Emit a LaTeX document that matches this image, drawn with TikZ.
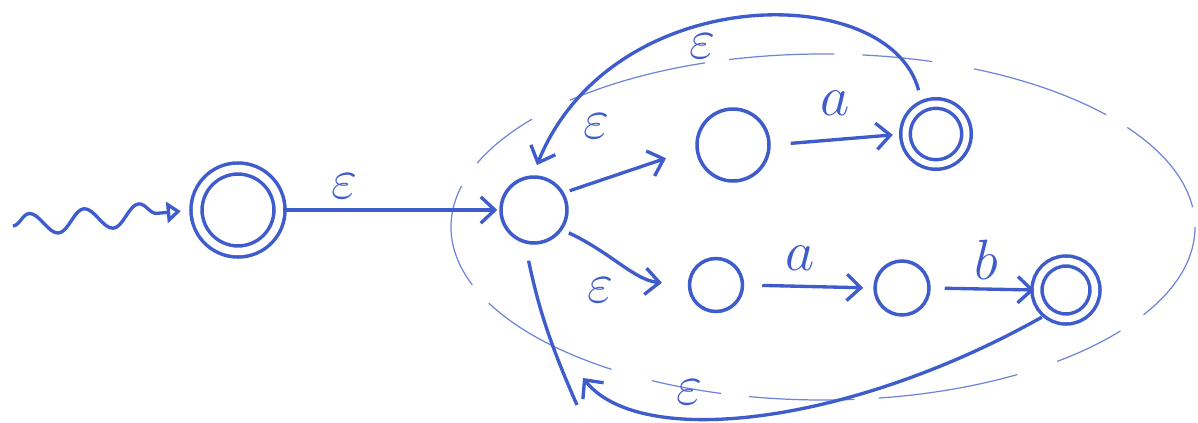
\documentclass[tikz,border=0pt]{standalone}
\usetikzlibrary{arrows.meta,decorations.pathmorphing}
\definecolor{ink}{RGB}{62,92,204}
\begin{document}
\begin{tikzpicture}[x=0.02cm,y=-0.02cm,
  state/.style={circle,draw=ink,line width=2pt,inner sep=0pt},
  accept/.style={state,double=white,double distance=0.15cm},
  edge/.style={draw=ink,line width=1.9pt,-{Straight Barb[length=8pt,width=15pt,line width=1.9pt]}},
  lab/.style={text=ink,font=\fontsize{24}{24}\selectfont,inner sep=0pt,scale=1.3},
  region/.style={draw=ink!75,line width=0.7pt,dash pattern=on 60pt off 16pt on 40pt off 24pt on 80pt off 14pt}]
\useasboundingbox (0,0) rectangle (1198,423);
% region
\draw[region] (823,227) ellipse [x radius=372, y radius=173];
% states
\node[accept,minimum size=1.66cm] (s0) at (238,210) {};
\node[state,minimum size=1.32cm] (s1) at (534,210) {};
\node[state,minimum size=1.44cm] (s2) at (733,145) {};
\node[accept,minimum size=1.22cm,double distance=0.12cm] (s3) at (936,134) {};
\node[state,minimum size=1.06cm] (s4) at (716,285) {};
\node[state,minimum size=1.08cm] (s5) at (902,288) {};
\node[accept,minimum size=1.16cm,double distance=0.13cm] (s6) at (1066,290) {};
\coordinate (start) at (13,226);
\coordinate (j) at (583,378);
\coordinate (tail) at (577,405);
% start arrow
\draw[ink,line width=1.9pt,decorate,decoration={snake,amplitude=0.22cm,segment length=1.1cm,post length=0.35cm},
  -{Triangle[open,length=8pt,width=12pt,line width=1.9pt]},shorten >=0.28cm] (start) -- (s0.west);
% transitions
\draw[edge,shorten <=0.04cm,shorten >=0.04cm] (s0.east) -- (s1.west);
\node[lab] (l0) at (345,186) {$\varepsilon$};
\draw[edge,shorten <=0.12cm,shorten >=0.62cm] (s1.30) -- (s2.185);
\node[lab] (l1) at (597,126) {$\varepsilon$};
\draw[edge,shorten <=0.4cm,shorten >=0.22cm] (s2.east) -- (s3.west);
\node[lab] (l5) at (835,103) {$a$};
\draw[edge,shorten <=0.14cm,shorten >=0.52cm] (s1.-35) to[out=-25,in=175] (s4.west);
\node[lab] (l2) at (601,290) {$\varepsilon$};
\draw[edge,shorten <=0.36cm,shorten >=0.2cm] (s4.east) -- (s5.west);
\node[lab] (l6) at (800,258) {$a$};
\draw[edge,shorten <=0.28cm,shorten >=0.02cm] (s5.east) -- (s6.west);
\node[lab] (l7) at (986,260) {$b$};
% loops back
\draw[edge,shorten <=0.3cm,shorten >=0.22cm] (s3.115) .. controls (890,-20) and (612,-20) .. (s1.92);
\node[lab] (l3) at (703,46) {$\varepsilon$};
\draw[edge,shorten <=0.12cm] (s6.-128) .. controls (850,425) and (640,450) .. (j);
\draw[ink,line width=1.9pt,shorten <=0.35cm] (s1.-105) to[bend right=6] (tail);
\node[lab] (l4) at (690,392) {$\varepsilon$};
\end{tikzpicture}
\end{document}
